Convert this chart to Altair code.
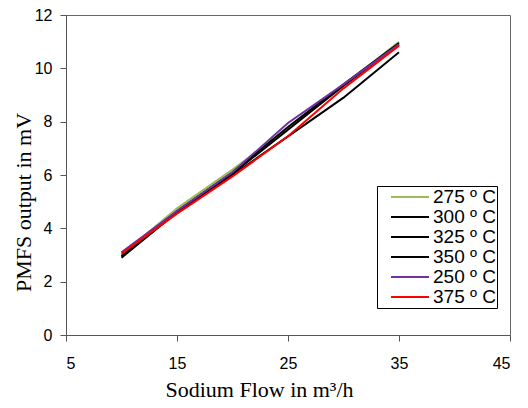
import altair as alt
import pandas as pd

flow = [10, 15, 20, 25, 30, 35]
series_names = ["275 º C", "300 º C", "325 º C", "350 º C", "250 º C", "375 º C"]
series_colors = ["#9bbb59", "#000000", "#000000", "#000000", "#7030a0", "#ff0000"]
v275 = [3.0, 4.75, 6.2, 7.75, 9.35, 11.0]
v300 = [2.95, 4.65, 6.1, 7.8, 9.4, 10.95]
v325 = [2.9, 4.6, 6.05, 7.7, 9.35, 10.9]
v350 = [2.95, 4.6, 6.0, 7.45, 8.9, 10.6]
v250 = [3.1, 4.65, 6.1, 7.95, 9.4, 10.9]
v375 = [3.05, 4.55, 5.95, 7.45, 9.25, 10.85]
all_vals = [v275, v300, v325, v350, v250, v375]

rows = []
for i, (name, vals) in enumerate(zip(series_names, all_vals)):
    for x, y in zip(flow, vals):
        rows.append({"flow": x, "mv": y, "series": name, "ord": i})
df = pd.DataFrame(rows)

chart = alt.Chart(df).mark_line(strokeWidth=2).encode(
    x=alt.X("flow:Q", scale=alt.Scale(domain=[5, 45], nice=False),
            axis=alt.Axis(values=[5, 15, 25, 35, 45], title="Sodium Flow in m³/h",
                          titleX=193, titleY=61, titleBaseline="alphabetic",
                          labelPadding=14)),
    y=alt.Y("mv:Q", scale=alt.Scale(domain=[0, 12], nice=False),
            axis=alt.Axis(values=[0, 2, 4, 6, 8, 10, 12], title="PMFS output in mV",
                          titleX=-36, titleY=187, titleBaseline="alphabetic",
                          labelPadding=8)),
    color=alt.Color("series:N",
                    scale=alt.Scale(domain=series_names, range=series_colors),
                    sort=series_names,
                    legend=alt.Legend(title=None, orient="none", legendX=311, legendY=171,
                                      symbolType="stroke", symbolSize=1444, symbolStrokeWidth=2,
                                      symbolOffset=12,
                                      labelFontSize=19, labelFont="Liberation Sans",
                                      labelExpr="datum.label + '\u00a0\u00a0\u00a0'",
                                      labelColor="#000", clipHeight=20, rowPadding=0,
                                      labelOffset=3, padding=1,
                                      strokeColor="#000", fillColor="#fff")),
    detail="ord:O",
    order="ord:Q",
).properties(
    width=444, height=320,
    autosize=alt.AutoSizeParams(type="none"),
    padding={"left": 58, "top": 7, "right": 10, "bottom": 65},
).configure_view(
    stroke="#666", strokeWidth=1
).configure_axis(
    grid=False, domainColor="#555", tickColor="#555", tickSize=6,
    labelFont="Liberation Sans", labelFontSize=16, labelColor="#000",
    titleFont="Liberation Serif", titleFontSize=22, titleFontWeight="normal",
    titleColor="#000",
)

chart.save("out.html", embed_options={"renderer": "svg", "actions": False})
